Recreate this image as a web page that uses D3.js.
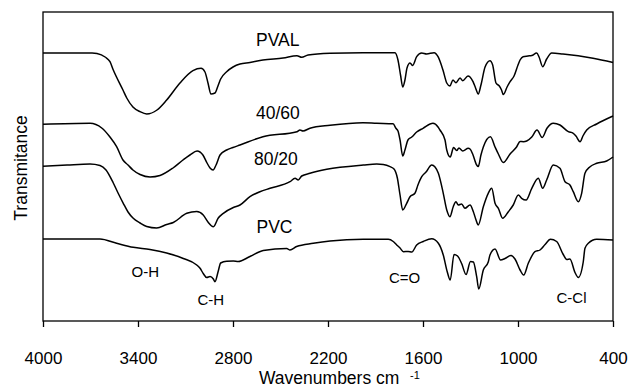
<!DOCTYPE html>
<html>
<head>
<meta charset="utf-8">
<script src="https://cdn.jsdelivr.net/npm/d3@7"></script>
<style>
  html, body { margin: 0; padding: 0; background: #fff; }
  svg { display: block; }
  text { font-family: "Liberation Sans", Arial, Helvetica, sans-serif; fill: #000; }
</style>
</head>
<body>
<svg id="chart" width="630" height="390"></svg>
<script>
// ---- data (wavenumber, cm^-1) and transmittance (arbitrary units, offset traces) ----
const xTicks = [4000, 3400, 2800, 2200, 1600, 1000, 400];

const pvalWn = [4000,3690,3659,3608,3577,3556,3495,3471,3432,3387,3345,3280,3219,3135,3053,3002,2977,2958,2939,2914,2895,2878,2840,2800,2756,2693,2611,2484,2396,2366,2326,2187,1979,1777,1758,1742,1728,1714,1701,1682,1665,1640,1608,1577,1530,1505,1474,1450,1430,1411,1392,1366,1349,1316,1303,1284,1268,1251,1234,1208,1177,1160,1139,1118,1104,1093,1069,1050,1025,1000,987,968,937,913,882,867,844,819,787,716,526,400];
const pvalT  = [268,268,267.5,264,259.3,251,231,223,214,209.3,207,211,221,238,250.3,252.7,249,238,227,228,235,242,249.3,254,257,258.5,261,263,265.3,263.7,266,267.7,268.3,268.3,261,246,234,241,253,258,255.5,264.3,268,267,268.3,264.3,251,238,235,241,238.3,243,240.3,245,244,239.3,233,227,236,254,260.3,256,238,235,231,226.5,234,239.3,245,256,261,264.3,265,265.5,268,264,254.3,262,268,267,262.7,258.5];

const b4060Wn = [4000,3703,3629,3577,3535,3495,3463,3432,3387,3324,3261,3179,3116,3072,3027,2990,2964,2945,2926,2907,2882,2840,2800,2756,2611,2396,2377,2358,2314,2187,1979,1892,1789,1771,1758,1745,1728,1714,1695,1671,1640,1600,1537,1505,1493,1461,1450,1428,1407,1387,1373,1349,1314,1303,1284,1261,1251,1234,1219,1174,1145,1124,1093,1050,1008,987,966,945,913,880,847,817,777,735,682,651,634,608,590,566,503,400];
const b4060T  = [196.7,197.7,193,184,174.3,161,156,151,146.5,144,145.5,153,161,166,170,166,158,153,151,156,166,171,173.5,176,184.3,189.3,191,190,192.7,195.7,198.3,197.7,197.2,192.7,190,181,165,171,181,184,189,192.7,197.7,194,191,181,171,164,173.5,170.5,173,170,172.7,172,166,156,154.5,166,174,184.3,174,167,158.5,167,174.3,179.5,179.3,180,184,191,183.5,192.7,197.7,196,189.3,187.7,185,179.3,185,191,197,205];

const b8020Wn = [4000,3848,3703,3640,3602,3556,3526,3493,3463,3430,3387,3345,3282,3219,3177,3092,3029,2988,2958,2924,2893,2861,2798,2756,2693,2630,2566,2440,2408,2388,2366,2314,2208,1977,1892,1851,1808,1783,1762,1745,1728,1703,1682,1651,1632,1608,1581,1545,1524,1503,1472,1450,1430,1409,1392,1377,1356,1335,1303,1282,1265,1251,1219,1188,1166,1145,1124,1097,1061,1030,998,977,949,913,872,844,819,777,735,703,672,651,619,598,577,545,503,440,400];
const b8020T  = [154.7,156,157,155.5,151,138,128,117.7,109,102.7,98,94.5,93,96.5,98.5,107.7,109.5,106,99,94.3,103,107.7,113.5,116,124.3,129.3,132.7,139.3,142.7,141,145,147.7,151.7,156,157,156.5,154.3,152,143,126,111,117.7,124.3,127.7,136,144.3,149,156,154,147.7,127.7,111,104.3,114.3,119.3,116,117,112.7,116,109.3,101,96,114.3,127.7,132.7,117.7,112.7,102.7,109.3,116,126,122.7,121,132.7,142.7,132.7,141,156,152.7,139.3,136,129.3,119.3,127.7,147.7,154.3,157.7,160,164];

const pvcWn = [4000,3640,3535,3430,3324,3219,3114,3029,3008,2988,2966,2945,2924,2914,2893,2878,2840,2798,2767,2693,2609,2461,2440,2398,2293,2187,1977,1819,1788,1766,1745,1724,1693,1671,1640,1598,1545,1503,1472,1447,1428,1404,1382,1356,1328,1300,1282,1261,1248,1219,1188,1177,1145,1110,1082,1044,1019,987,964,935,893,861,829,795,756,716,692,672,640,619,588,577,556,503,400];
const pvcT  = [82,82,77.7,73.7,71.5,68,62.5,56,52.7,47.5,43.5,44.5,42,39.3,50,58,59.8,60,59.5,64.5,70.5,72.5,71,74.5,77.7,80,81.7,81.7,79.5,76,73,69.3,69.5,69,76,79.5,82.2,77.7,66,49.3,41,66.5,65,57.5,46.5,59.5,59,44.3,32,51,59,66,72,61,62.5,65.5,62,51,46,57.7,69.3,71,76.5,81.7,79.5,67,61.5,62,48.5,43.5,59,72.7,77.7,81.7,81];

const seriesNames = ["PVAL", "40/60", "80/20", "PVC"];
const bandLabels = ["O-H", "C-H", "C=O", "C-Cl"];
const xTitle = "Wavenumbers cm";
const xTitleSup = "-1";
const yTitle = "Transmitance";

// ---- layout ----
const W = 630, H = 390;
const m = { left: 43, right: 17, top: 12, bottom: 69 };
const iw = W - m.left - m.right, ih = H - m.top - m.bottom;

const svg = d3.select("#chart");
const g = svg.append("g").attr("transform", `translate(${m.left},${m.top})`);

const x = d3.scaleLinear().domain([4000, 400]).range([0, iw]);
const y = d3.scaleLinear().domain([0, 309]).range([ih, 0]);

const series = [
  { name: seriesNames[0], wn: pvalWn, t: pvalT },
  { name: seriesNames[1], wn: b4060Wn, t: b4060T },
  { name: seriesNames[2], wn: b8020Wn, t: b8020T },
  { name: seriesNames[3], wn: pvcWn, t: pvcT }
];

const line = d3.line()
  .x(d => x(d[0]))
  .y(d => y(d[1]))
  .curve(d3.curveMonotoneX);

g.selectAll("path.trace")
  .data(series)
  .join("path")
  .attr("class", "trace")
  .attr("fill", "none")
  .attr("stroke", "#000")
  .attr("stroke-width", 1.5)
  .attr("stroke-linejoin", "round")
  .attr("d", s => line(s.wn.map((w, i) => [w, s.t[i]])));

// frame
g.append("rect")
  .attr("x", 0).attr("y", 0).attr("width", iw).attr("height", ih)
  .attr("fill", "none").attr("stroke", "#000").attr("stroke-width", 1.3);

// x axis
const xAxis = d3.axisBottom(x).tickValues(xTicks).tickSize(6).tickSizeOuter(0).tickPadding(25).tickFormat(d3.format("d"));
const ax = g.append("g").attr("transform", `translate(0,${ih})`).call(xAxis);
ax.select(".domain").remove();
ax.selectAll(".tick line").attr("stroke", "#000").attr("stroke-width", 1.3);
ax.selectAll(".tick text").attr("font-size", 17).attr("font-family", '"Liberation Sans", Arial, sans-serif').attr("fill", "#000");

// axis titles
svg.append("text").attr("x", 259).attr("y", 383.5).attr("font-size", 17.5).text(xTitle);
svg.append("text").attr("x", 410).attr("y", 378.5).attr("font-size", 11).text(xTitleSup);
svg.append("text")
  .attr("transform", "translate(26.5,168) rotate(-90)")
  .attr("text-anchor", "middle")
  .attr("font-size", 17.5)
  .text(yTitle);

// series labels
const seriesLabelPos = [[256, 45.5], [256, 119.3], [254, 165], [256.5, 233.3]];
svg.selectAll("text.slabel")
  .data(seriesNames)
  .join("text")
  .attr("class", "slabel")
  .attr("x", (d, i) => seriesLabelPos[i][0])
  .attr("y", (d, i) => seriesLabelPos[i][1])
  .attr("font-size", 17.5)
  .text(d => d);

// band labels
const bandLabelPos = [[131.5, 277.3], [197.5, 305], [389, 283.3], [556.5, 303.3]];
svg.selectAll("text.blabel")
  .data(bandLabels)
  .join("text")
  .attr("class", "blabel")
  .attr("x", (d, i) => bandLabelPos[i][0])
  .attr("y", (d, i) => bandLabelPos[i][1])
  .attr("font-size", 15)
  .text(d => d);
</script>
</body>
</html>
